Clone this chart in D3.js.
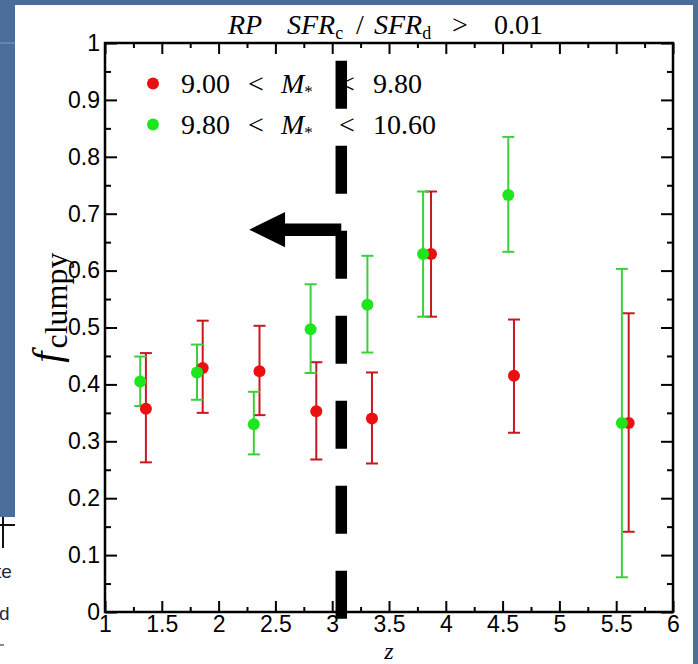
<!DOCTYPE html>
<html>
<head>
<meta charset="utf-8">
<script src="https://cdn.jsdelivr.net/npm/d3@7"></script>
<style>
  html, body { margin: 0; padding: 0; background: #4b6d9a; }
  svg { display: block; }
</style>
</head>
<body>
<div id="chart"></div>
<script>
// Values (redshift z, clumpy fraction and error bar ends).
var zRed = [1.36, 1.86, 2.36, 2.86, 3.35, 3.87, 4.60, 5.61];
var fRed = [0.357, 0.429, 0.423, 0.353, 0.340, 0.629, 0.415, 0.332];
var redHi = [0.455, 0.512, 0.503, 0.439, 0.421, 0.739, 0.514, 0.525];
var redLo = [0.263, 0.350, 0.346, 0.268, 0.261, 0.519, 0.315, 0.141];

var zGreen = [1.31, 1.81, 2.31, 2.81, 3.31, 3.80, 4.55, 5.55];
var fGreen = [0.405, 0.421, 0.330, 0.497, 0.540, 0.629, 0.733, 0.332];
var greenHi = [0.449, 0.470, 0.387, 0.576, 0.626, 0.739, 0.835, 0.603];
var greenLo = [0.362, 0.373, 0.277, 0.420, 0.456, 0.519, 0.633, 0.061];

var xTicks = [1, 1.5, 2, 2.5, 3, 3.5, 4, 4.5, 5, 5.5, 6];
var yTicks = [0, 0.1, 0.2, 0.3, 0.4, 0.5, 0.6, 0.7, 0.8, 0.9, 1];
var legendRows = [["9.00", "9.80"], ["9.80", "10.60"]];

// The dashed z cut and the arrow pointing to lower z.
var cutZ = 3.08;
var cutTop = 0.969, cutBottom = -0.0125;
var arrowF = 0.672, arrowTipZ = 2.27, arrowBackZ = 2.585, arrowHalf = 0.031;

var W = 698, H = 664;
var margin = {left: 105, right: 25, top: 43, bottom: 52};

var svg = d3.select('#chart').append('svg')
    .attr('width', W)
    .attr('height', H);

// slide background: white panel over the blue template
svg.append('rect').attr('x', 0).attr('y', 0).attr('width', W).attr('height', H).attr('fill', '#4b6d9a');
svg.append('line').attr('x1', 0).attr('x2', 15).attr('y1', 43).attr('y2', 43)
    .attr('stroke', '#7f9cc2').attr('stroke-width', 1);
svg.append('rect').attr('x', 15).attr('y', 5).attr('width', 678).attr('height', H - 5).attr('fill', '#fff');
svg.append('rect').attr('x', 0).attr('y', 517).attr('width', 16).attr('height', H - 517).attr('fill', '#fff');
// bits of the slide text showing under the panel
svg.append('line').attr('x1', 3).attr('x2', 3).attr('y1', 517).attr('y2', 548).attr('stroke', '#111').attr('stroke-width', 2);
svg.append('line').attr('x1', 0).attr('x2', 15).attr('y1', 525).attr('y2', 525).attr('stroke', '#111').attr('stroke-width', 2);
svg.append('text').attr('x', -4).attr('y', 578).text('te')
    .style('font', '19px "Liberation Sans", Arial, sans-serif').attr('fill', '#1c2a44');
svg.append('text').attr('x', -1).attr('y', 620).text('d')
    .style('font', '19px "Liberation Sans", Arial, sans-serif').attr('fill', '#1c2a44');
svg.append('line').attr('x1', 0).attr('x2', 4).attr('y1', 645).attr('y2', 645).attr('stroke', '#888').attr('stroke-width', 2);

var x = d3.scaleLinear().domain([1, 6]).range([margin.left, W - margin.right]);
var y = d3.scaleLinear().domain([0, 1]).range([H - margin.bottom, margin.top]);

var g = svg.append('g');
var sans = '23px "Liberation Sans", Arial, sans-serif';
var serif = '"Liberation Serif", "Times New Roman", serif';

function minor(ticks) {
    var out = [];
    for (var i = 0; i < ticks.length - 1; i++) out.push((ticks[i] + ticks[i + 1]) / 2);
    return out;
}
function fmtY(d) { return d === 0 ? '0' : d === 1 ? '1' : d3.format('.1f')(d); }

// axes with inward ticks on all four sides
var axes = [
    {ax: d3.axisBottom(x).tickValues(xTicks).tickFormat(d3.format('')), tr: [0, y(0)], len: 11, labels: true, pad: 4},
    {ax: d3.axisBottom(x).tickValues(minor(xTicks)).tickFormat(''), tr: [0, y(0)], len: 5},
    {ax: d3.axisTop(x).tickValues(xTicks).tickFormat(''), tr: [0, y(1)], len: 11},
    {ax: d3.axisTop(x).tickValues(minor(xTicks)).tickFormat(''), tr: [0, y(1)], len: 5},
    {ax: d3.axisLeft(y).tickValues(yTicks).tickFormat(fmtY), tr: [x(1), 0], len: 12, labels: true, pad: 5},
    {ax: d3.axisLeft(y).tickValues(minor(yTicks)).tickFormat(''), tr: [x(1), 0], len: 6},
    {ax: d3.axisRight(y).tickValues(yTicks).tickFormat(''), tr: [x(6), 0], len: 12},
    {ax: d3.axisRight(y).tickValues(minor(yTicks)).tickFormat(''), tr: [x(6), 0], len: 6}
];
axes.forEach(function(a) {
    var ag = g.append('g')
        .attr('transform', 'translate(' + a.tr[0] + ',' + a.tr[1] + ')')
        .call(a.ax.tickSize(-a.len).tickSizeOuter(0).tickPadding(a.labels ? a.pad : 0));
    ag.select('.domain').remove();
    ag.selectAll('.tick line').attr('stroke', '#000').attr('stroke-width', 2);
    ag.selectAll('.tick text').style('font', sans).attr('fill', '#000');
});

// frame
g.append('rect')
    .attr('x', x(1)).attr('y', y(1))
    .attr('width', x(6) - x(1)).attr('height', y(0) - y(1))
    .attr('fill', 'none').attr('stroke', '#000').attr('stroke-width', 2.5);

// error bars
function errorBars(zs, lo, hi, color) {
    var gb = g.append('g').attr('stroke', color).attr('stroke-width', 2);
    zs.forEach(function(z, i) {
        gb.append('line').attr('x1', x(z)).attr('x2', x(z)).attr('y1', y(lo[i])).attr('y2', y(hi[i]));
        [lo[i], hi[i]].forEach(function(v) {
            gb.append('line').attr('x1', x(z) - 6).attr('x2', x(z) + 6).attr('y1', y(v)).attr('y2', y(v));
        });
    });
}
function markers(zs, fs, color) {
    g.append('g').selectAll('circle')
        .data(zs)
        .join('circle')
        .attr('cx', d => x(d))
        .attr('cy', (d, i) => y(fs[i]))
        .attr('r', 6)
        .attr('fill', color);
}
errorBars(zRed, redLo, redHi, '#c8171f');
errorBars(zGreen, greenLo, greenHi, '#3ccf3c');
markers(zRed, fRed, '#ea1010');
markers(zGreen, fGreen, '#1de61d');

// legend
var legColors = ['#ea1010', '#1de61d'];
legendRows.forEach(function(r, i) {
    var base = 93 + i * 41;
    var lg = g.append('g').style('font-family', serif).style('font-size', '28px').attr('fill', '#000');
    lg.append('circle').attr('cx', 153).attr('cy', base - 9.5).attr('r', 6).attr('fill', legColors[i]);
    lg.append('text').attr('x', 181).attr('y', base).text(r[0]);
    lg.append('text').attr('x', 256).attr('y', base).attr('text-anchor', 'middle').text('<');
    var m = lg.append('text').attr('x', 281).attr('y', base);
    m.append('tspan').style('font-style', 'italic').text('M');
    m.append('tspan').attr('dy', 4).style('font-size', '17px').text('*');
    lg.append('text').attr('x', 347).attr('y', base).attr('text-anchor', 'middle').text('<');
    lg.append('text').attr('x', 373).attr('y', base).text(r[1]);
});

// title
var t = svg.append('text').attr('y', 34)
    .style('font-family', serif).style('font-size', '28px').attr('fill', '#000');
t.append('tspan').attr('x', 228).style('font-style', 'italic').text('RP');
t.append('tspan').attr('x', 287).style('font-style', 'italic').text('SFR');
t.append('tspan').attr('dy', 5).style('font-size', '18px').text('c');
t.append('tspan').attr('x', 356).attr('dy', -5).text('/');
t.append('tspan').attr('x', 374).style('font-style', 'italic').text('SFR');
t.append('tspan').attr('dy', 5).style('font-size', '18px').text('d');
t.append('tspan').attr('x', 452).attr('dy', -5).text('>');
t.append('tspan').attr('x', 494).text('0.01');

// axis titles
svg.append('text').attr('x', x(3.5)).attr('y', 658.7).attr('text-anchor', 'middle')
    .style('font-family', serif).style('font-style', 'italic').style('font-size', '24px').text('z');
var yl = svg.append('text').attr('transform', 'translate(60,' + y(0.535) + ') rotate(-90)')
    .attr('text-anchor', 'middle').style('font-family', serif).attr('fill', '#000');
yl.append('tspan').style('font-style', 'italic').style('font-size', '40px').text('f');
yl.append('tspan').attr('dy', 7).attr('dx', 3).style('font-size', '32px').text('clumpy');

// dashed cut and arrow
g.append('line')
    .attr('x1', x(cutZ)).attr('x2', x(cutZ))
    .attr('y1', y(cutTop)).attr('y2', y(cutBottom))
    .attr('stroke', '#000').attr('stroke-width', 11.5)
    .attr('stroke-dasharray', '48,37');
g.append('line')
    .attr('x1', x(arrowBackZ) - 2).attr('x2', x(cutZ))
    .attr('y1', y(arrowF)).attr('y2', y(arrowF))
    .attr('stroke', '#000').attr('stroke-width', 12.5);
g.append('path')
    .attr('d', d3.line()([
        [x(arrowTipZ), y(arrowF)],
        [x(arrowBackZ), y(arrowF + arrowHalf)],
        [x(arrowBackZ), y(arrowF - arrowHalf)]
    ]) + 'Z')
    .attr('fill', '#000');
</script>
</body>
</html>
